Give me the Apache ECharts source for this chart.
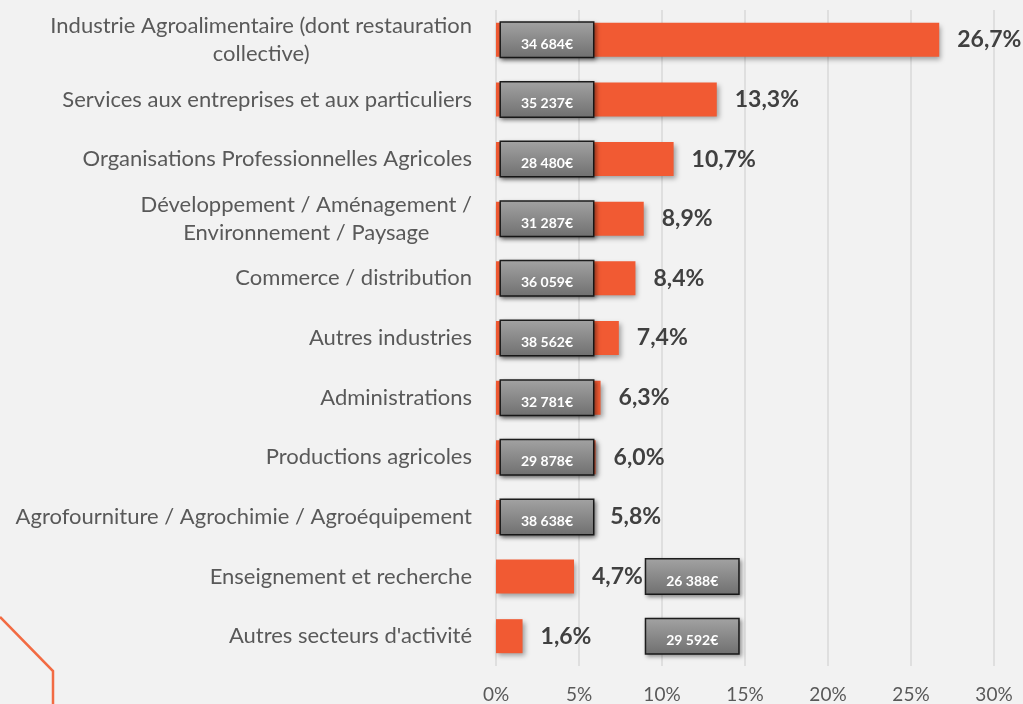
<!DOCTYPE html>
<html lang="fr">
  <head>
    <meta charset="UTF-8" />
    <title>Secteurs d'activité</title>
    <style>
      * {
        margin: 0;
        padding: 0;
      }
      body {
        background: #f2f2f2;
      }
      #main {
        width: 1023px;
        height: 704px;
      }
    </style>
  </head>
  <body>
    <div id="main"></div>
    <script src="https://cdn.jsdelivr.net/npm/echarts@6/dist/echarts.min.js"></script>
    <script>
      // secteurs (de haut en bas)
      const secteurs = [
        "Industrie Agroalimentaire (dont restauration\ncollective)",
        "Services aux entreprises et aux particuliers",
        "Organisations Professionnelles Agricoles",
        "Développement / Aménagement /\nEnvironnement / Paysage",
        "Commerce / distribution",
        "Autres industries",
        "Administrations",
        "Productions agricoles",
        "Agrofourniture / Agrochimie / Agroéquipement",
        "Enseignement et recherche",
        "Autres secteurs d'activité",
      ];
      // part des diplômés (%)
      const parts = [26.7, 13.3, 10.7, 8.9, 8.4, 7.4, 6.3, 6.0, 5.8, 4.7, 1.6];
      // salaire brut annuel moyen
      const salaires = [
        "34 684€", "35 237€", "28 480€", "31 287€", "36 059€", "38 562€",
        "32 781€", "29 878€", "38 638€", "26 388€", "29 592€",
      ];
      const ticks = [0, 5, 10, 15, 20, 25, 30];

      const orange = "#f15a33";
      const font = "Lato";

      var myChart = echarts.init(document.getElementById("main"));

      // boîte grise : dans la barre si elle est assez longue, sinon à droite
      const boites = parts.map((p, i) => ({
        value: [p < 5 ? 9.05 : 0.3, secteurs[i]],
        label: { formatter: "{s|" + salaires[i] + "}" },
      }));

      const option = {
        backgroundColor: "#f2f2f2",
        animation: false,
        textStyle: { fontFamily: font },
        grid: { left: 496, right: 29, top: 10, bottom: 38 },
        xAxis: {
          type: "value",
          min: ticks[0],
          max: ticks[ticks.length - 1],
          interval: 5,
          axisLine: { show: false },
          axisTick: { show: false },
          splitLine: { lineStyle: { color: "#d9d9d9", width: 1.5 } },
          axisLabel: {
            formatter: "{value}%",
            color: "#595959",
            fontSize: 19,
            fontFamily: font,
            margin: 19,
          },
        },
        yAxis: {
          type: "category",
          data: secteurs,
          inverse: true,
          axisLine: { show: false },
          axisTick: { show: false },
          axisLabel: {
            margin: 24,
            color: "#595959",
            fontSize: 22,
            fontFamily: font,
            lineHeight: 28,
            formatter: (v) =>
              v
                .split("\n")
                .map((l) => "{c|" + l + "}")
                .join("\n"),
            rich: {
              c: {
                align: "center",
                color: "#595959",
                fontSize: 22,
                fontFamily: font,
                lineHeight: 28,
              },
            },
          },
        },
        series: [
          {
            type: "bar",
            data: parts,
            barWidth: 34,
            itemStyle: {
              color: orange,
              shadowColor: "rgba(0,0,0,0.35)",
              shadowBlur: 5,
              shadowOffsetX: 2,
              shadowOffsetY: 3,
            },
            label: {
              show: true,
              position: "right",
              distance: 18,
              color: "#404040",
              fontSize: 23,
              fontWeight: "bold",
              fontFamily: font,
              formatter: (p) => p.value.toFixed(1).replace(".", ",") + "%",
            },
          },
          {
            type: "scatter",
            data: boites,
            symbolSize: 0,
            z: 5,
            itemStyle: { opacity: 1 },
            emphasis: { disabled: true },
            label: {
              show: true,
              position: "right",
              distance: 0,
              padding: [9, 0, 0, 0],
              borderColor: "#1e1e1e",
              borderWidth: 1.5,
              backgroundColor: {
                type: "linear",
                x: 0,
                y: 0,
                x2: 0,
                y2: 1,
                colorStops: [
                  { offset: 0, color: "#a3a3a3" },
                  { offset: 1, color: "#6f6f6f" },
                ],
              },
              shadowColor: "rgba(0,0,0,0.35)",
              shadowBlur: 4,
              shadowOffsetX: 2,
              shadowOffsetY: 2,
              rich: {
                s: {
                  width: 92,
                  height: 25,
                  lineHeight: 25,
                  align: "center",
                  color: "#fff",
                  fontSize: 14,
                  fontWeight: "bold",
                  fontFamily: font,
                },
              },
            },
          },
        ],
        graphic: [
          {
            type: "polyline",
            shape: {
              points: [
                [0, 617],
                [53, 671],
                [53, 704],
              ],
            },
            style: { stroke: "#f26b43", lineWidth: 2.5, fill: null },
          },
        ],
      };

      myChart.setOption(option);
    </script>
  </body>
</html>
